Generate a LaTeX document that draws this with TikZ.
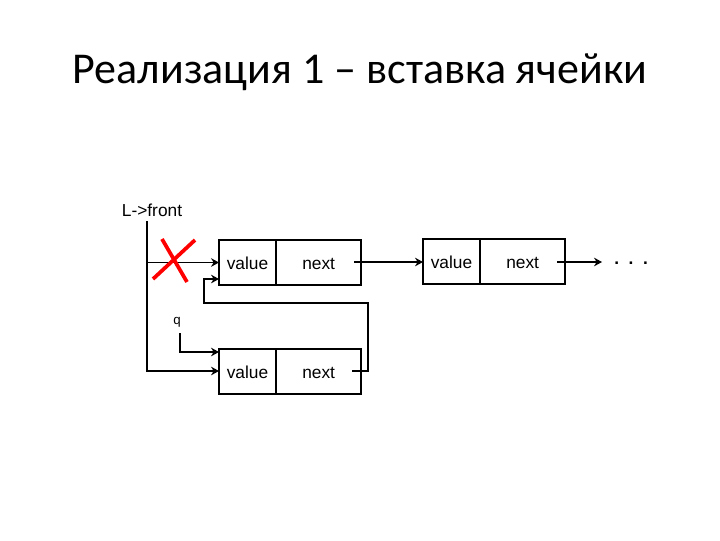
\documentclass[tikz,border=0pt]{standalone}
\usepackage{fontspec}
\setmainfont{Liberation Sans}
\newfontfamily\titlefont{Carlito}
\usetikzlibrary{arrows.meta,calc}

\begin{document}
\begin{tikzpicture}[x=0.75pt,y=-0.75pt,
  cell/.style={draw=black, line width=1.5pt, inner sep=0pt, outer sep=0pt,
    minimum height=33.75pt, text height=11pt, text depth=0pt,
    font=\fontsize{13pt}{15pt}\selectfont},
  valcell/.style={cell, minimum width=42.75pt},
  nextcell/.style={cell, minimum width=64pt},
  link/.style={black, line width=1.3pt, -{Stealth[length=6pt, width=6.5pt, inset=2pt]}},
  lbl/.style={inner sep=0pt, font=\fontsize{13pt}{15pt}\selectfont}]
\useasboundingbox (0,0) rectangle (720,540);
% title
\node[inner sep=0pt, font=\titlefont\fontsize{33pt}{38pt}\selectfont] (title) at (360,72) {Реализация 1 – вставка ячейки};
% cells
\node[valcell, anchor=west] (v1) at (219,262.5) {value};
\node[nextcell, anchor=west] (n1) at (v1.east) {next};
\node[valcell, anchor=west] (v2) at (219,371) {value};
\node[nextcell, anchor=west] (n2) at (v2.east) {next};
\node[valcell, anchor=west] (v3) at (423,261) {value};
\node[nextcell, anchor=west] (n3) at (v3.east) {next};
% labels
\node[lbl] (lf) at (152,210) {L->front};
\node[lbl, font=\fontsize{10pt}{12pt}\selectfont] (q) at (177,322) {q};
\node[lbl, anchor=base west, font=\bfseries\fontsize{13pt}{15pt}\selectfont] (dots) at (614,264) {.\ \ .\ \ .};
% pointers
\coordinate (top) at (147,221);
\coordinate (qp) at (180,333);
\coordinate (p1) at (354,262);
\coordinate (p2) at (352,371);
\coordinate (p3) at (557,262);
\draw[link] (top) |- (v2.west);
\draw[link] (top |- v1.west) -- (v1.west);
\draw[link] (qp) |- ($(v2.west)+(0,-19)$);
\draw[link] (p2) -- (368,371) |- (204,303) |- ($(v1.west)+(0,16.5)$);
\draw[link] (p1) -- (p1 -| v3.west);
\draw[link, shorten >=9pt] (p3) -- (p3 -| dots.west);
% crossed out
\draw[red, line width=2.8pt] (162,239) -- (187,282);
\draw[red, line width=2.8pt] (195,240) -- (153,279);
\end{tikzpicture}
\end{document}
